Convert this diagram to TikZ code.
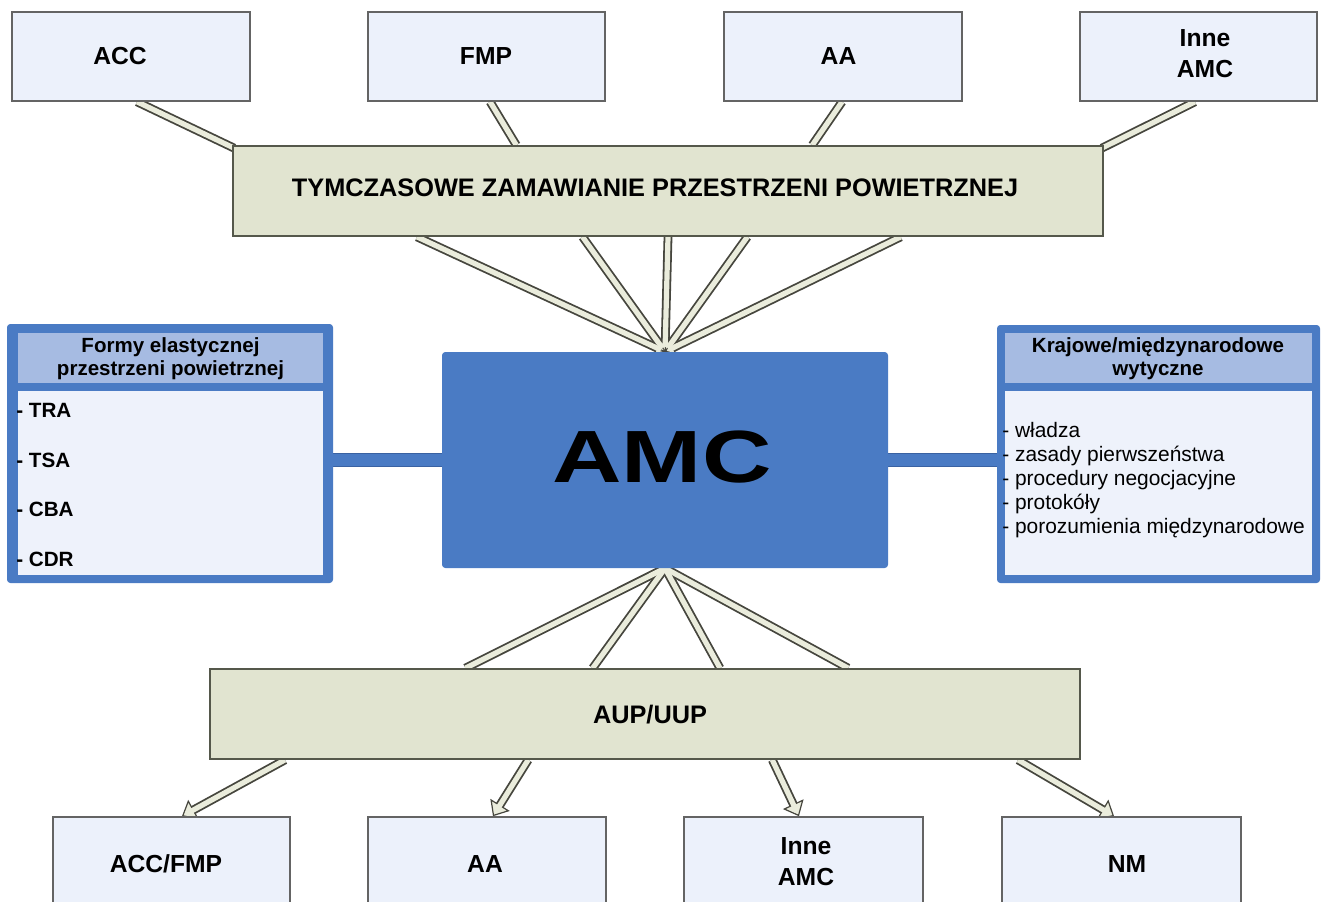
\documentclass[tikz,border=0pt]{standalone}
\usepackage{fontspec}
\usepackage{graphicx}
\setmainfont{Liberation Sans}
\usetikzlibrary{arrows.meta,backgrounds,calc,fit}

\definecolor{boxfill}{RGB}{236,241,251}
\definecolor{boxedge}{RGB}{100,100,100}
\definecolor{barfill}{RGB}{225,228,208}
\definecolor{baredge}{RGB}{85,88,75}
\definecolor{amcblue}{RGB}{74,123,196}
\definecolor{linkedge}{RGB}{58,98,162}
\definecolor{headblue}{RGB}{166,187,226}
\definecolor{bodyfill}{RGB}{238,242,251}
\definecolor{bandfill}{RGB}{234,236,220}
\definecolor{bandedge}{RGB}{70,70,62}

\begin{document}
\begin{tikzpicture}[x=0.75pt,y=-0.75pt,
  unit/.style={draw=boxedge, line width=1.2pt, fill=boxfill, inner sep=0pt},
  lbl/.style={font=\fontsize{18.5}{23.25}\selectfont\bfseries, align=center, inner sep=0pt},
  bar/.style={draw=baredge, line width=1.3pt, fill=barfill, inner sep=0pt},
  bartext/.style={font=\fontsize{19}{23}\selectfont\bfseries, inner sep=0pt, anchor=base},
  amcbox/.style={fill=amcblue, rounded corners=2.5pt, inner sep=0pt},
  panel/.style={fill=amcblue, rounded corners=2.5pt, inner sep=0pt},
  panelhead/.style={fill=headblue, inner sep=0pt},
  panelbody/.style={fill=bodyfill, inner sep=0pt},
  headtext/.style={font=\fontsize{15.4}{17}\selectfont\bfseries, align=center, inner sep=0pt},
  itemb/.style={font=\fontsize{15.5}{18}\selectfont\bfseries, anchor=base west, inner sep=0pt},
  itemr/.style={font=\fontsize{15.7}{18}\selectfont, anchor=base west, inner sep=0pt},
  band/.style={line width=6.6pt, draw=bandedge},
  bandin/.style={line width=3.9pt, draw=bandfill},
  tipbig/.style={-{Triangle[length=10pt,width=17pt,fill=bandfill,line width=0.9pt]}},
  tipsmall/.style={-{Triangle[length=7pt,width=11pt,fill=bandfill,line width=0.8pt]}},
  link/.style={line width=10.5pt, draw=linkedge},
  linkin/.style={line width=8.5pt, draw=amcblue}]

\useasboundingbox (0,0) rectangle (1327,902);

% upper row of units
\node[unit, fit={(12,12)(250,101)}] (acc) {};
\node[unit, fit={(368,12)(605,101)}] (fmp) {};
\node[unit, fit={(724,12)(962,101)}] (aa) {};
\node[unit, fit={(1080,12)(1317,101)}] (inne) {};
\node[lbl, anchor=base] (acct) at (120,65) {ACC};
\node[lbl, anchor=base] (fmpt) at (486,65) {FMP};
\node[lbl, anchor=base] (aat) at (838.5,65) {AA};
\node[lbl] (innet) at (1205,53.5) {Inne\\AMC};

% temporary airspace allocation bar
\node[bar, fit={(233,146)(1103,236)}] (tza) {};
\node[bartext] (tzat) at (655,197) {TYMCZASOWE ZAMAWIANIE PRZESTRZENI POWIETRZNEJ};

% central cell
\node[amcbox, fit={(442,352)(888,568)}] (amc) {};
\node[anchor=base, inner sep=0pt] (amct) at (662,482)
  {\scalebox{1.3}[1]{\fontsize{55.5}{60}\selectfont\bfseries AMC}};

% left panel
\node[panel, fit={(7,324)(333,583)}] (lpanel) {};
\node[panelhead, fit={(18,333)(323,383)}] (lhead) {};
\node[panelbody, fit={(18,391)(323,575)}] (lbody) {};
\node[headtext] (lht) at (170.5,358.5) {Formy elastycznej\\przestrzeni powietrznej};
\node[itemb] (tra) at (16,417) {- TRA};
\node[itemb] (tsa) at (16,467) {- TSA};
\node[itemb] (cba) at (16,516) {- CBA};
\node[itemb] (cdr) at (16,566) {- CDR};

% right panel
\node[panel, fit={(997,325)(1320,583)}] (rpanel) {};
\node[panelhead, fit={(1005,333)(1312,383)}] (rhead) {};
\node[panelbody, fit={(1005,391)(1312,575)}] (rbody) {};
\node[headtext] (rht) at (1158,358.5) {Krajowe/międzynarodowe\\wytyczne};
\node[itemr] (r1) at (1002,437) {- władza};
\node[itemr] (r2) at (1002,461) {- zasady pierwszeństwa};
\node[itemr] (r3) at (1002,485) {- procedury negocjacyjne};
\node[itemr] (r4) at (1002,509) {- protokóły};
\node[itemr] (r5) at (1002,533) {- porozumienia międzynarodowe};

% AUP/UUP bar
\node[bar, fit={(210,669)(1080,759)}] (aup) {};
\node[bartext] (aupt) at (650,723) {AUP/UUP};

% lower row of units
\node[unit, fit={(53,817)(290,906)}] (bacc) {};
\node[unit, fit={(368,817)(606,906)}] (baa) {};
\node[unit, fit={(684,817)(923,906)}] (binne) {};
\node[unit, fit={(1002,817)(1241,906)}] (bnm) {};
\node[lbl, anchor=base] (bacct) at (166,872) {ACC/FMP};
\node[lbl, anchor=base] (baat) at (485,872) {AA};
\node[lbl] (binnet) at (806,861.5) {Inne\\AMC};
\node[lbl, anchor=base] (bnmt) at (1127,872.5) {NM};

\begin{scope}[on background layer]
  % links between the panels and the cell
  \draw[link] (amc.west) -- (amc.west -| lpanel.east);
  \draw[linkin] (amc.west) -- (amc.west -| lpanel.east);
  \draw[link] (amc.east) -- (amc.east -| rpanel.west);
  \draw[linkin] (amc.east) -- (amc.east -| rpanel.west);

  % units to the allocation bar
  \draw[band] ($(acc.south west)!.525!(acc.south east)$) -- ($(tza.north west)+(2,3)$);
  \draw[bandin] ($(acc.south west)!.525!(acc.south east)$) -- ($(tza.north west)+(2,3)$);
  \draw[band] ($(fmp.south west)!.515!(fmp.south east)$) -- ($(tza.north west)!.326!(tza.north east)$);
  \draw[bandin] ($(fmp.south west)!.515!(fmp.south east)$) -- ($(tza.north west)!.326!(tza.north east)$);
  \draw[band] ($(aa.south west)!.496!(aa.south east)$) -- ($(tza.north west)!.6655!(tza.north east)$);
  \draw[bandin] ($(aa.south west)!.496!(aa.south east)$) -- ($(tza.north west)!.6655!(tza.north east)$);
  \draw[band] ($(inne.south west)!.485!(inne.south east)$) -- ($(tza.north east)+(-2,3)$);
  \draw[bandin] ($(inne.south west)!.485!(inne.south east)$) -- ($(tza.north east)+(-2,3)$);

  % allocation bar to the cell
  \foreach \f in {.212,.402,.5,.591,.767}
    \draw[band, tipsmall] ($(tza.south west)!\f!(tza.south east)$) -- (amc.north);
  \foreach \f in {.212,.402,.5,.591,.767}
    \draw[bandin, shorten >=3.5pt] ($(tza.south west)!\f!(tza.south east)$) -- (amc.north);

  % cell to the AUP/UUP bar
  \foreach \f in {.294,.44,.586,.733}
    \draw[band] (amc.south) -- ($(aup.north west)!\f!(aup.north east)$);
  \foreach \f in {.294,.44,.586,.733}
    \draw[bandin] (amc.south) -- ($(aup.north west)!\f!(aup.north east)$);

  % AUP/UUP bar to the lower units
  \foreach \f/\g/\n in {.087/.544/bacc,.366/.525/baa,.646/.481/binne,.928/.469/bnm}{
    \draw[band, tipbig] ($(aup.south west)!\f!(aup.south east)$) -- ($(\n.north west)!\g!(\n.north east)$);
    \draw[bandin, shorten >=4pt] ($(aup.south west)!\f!(aup.south east)$) -- ($(\n.north west)!\g!(\n.north east)$);
  }
\end{scope}
\end{tikzpicture}
\end{document}
